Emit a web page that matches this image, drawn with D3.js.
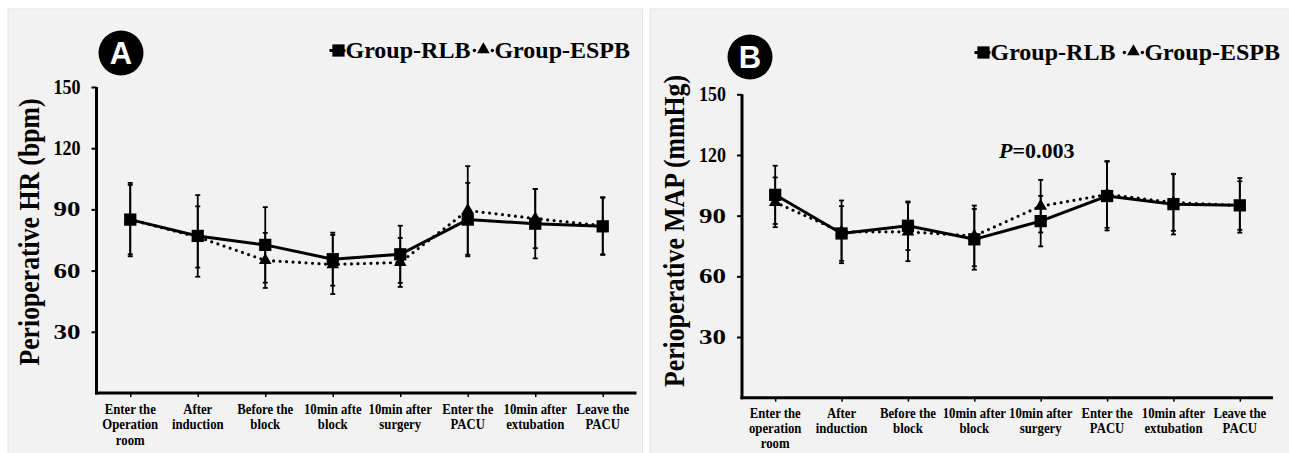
<!DOCTYPE html>
<html>
<head>
<meta charset="utf-8">
<script src="https://cdn.jsdelivr.net/npm/d3@7"></script>
<style>
  body { margin: 0; background: #ffffff; }
  svg { display: block; }
  text { font-family: "Liberation Serif", "Times New Roman", serif; font-weight: bold; fill: #000; }
</style>
</head>
<body>
<svg id="canvas" width="1289" height="453"></svg>
<script>

// time points (x axis), one array per panel since wording differs slightly
const catsHR = [
    ["Enter the", "Operation", "room"], ["After", "induction"], ["Before the", "block"],
    ["10min afte", "block"], ["10min after", "surgery"], ["Enter the", "PACU"],
    ["10min after", "extubation"], ["Leave the", "PACU"]
];
const catsMAP = [
    ["Enter the", "operation", "room"], ["After", "induction"], ["Before the", "block"],
    ["10min after", "block"], ["10min after", "surgery"], ["Enter the", "PACU"],
    ["10min after", "extubation"], ["Leave the", "PACU"]
];

// heart rate (bpm), mean and SD
const hrRLB = [85, 77, 72.6, 65.6, 68, 85, 83, 81.7];
const hrRLBsd = [18, 20, 18.5, 13, 14, 18, 17, 14];
const hrESPB = [85, 76.5, 65, 63, 64, 89.5, 85.5, 82];
const hrESPBsd = [17, 15, 13.5, 14.5, 12, 21.7, 14.5, 14];

// mean arterial pressure (mmHg), mean and SD
const mapRLB = [100.3, 81.2, 85, 78.3, 87.3, 99.7, 95.7, 95.1];
const mapRLBsd = [14.4, 13.5, 12, 15, 12.5, 17, 15, 13.5];
const mapESPB = [96.6, 82, 82, 80, 94.7, 100.5, 96.5, 95];
const mapESPBsd = [12.3, 15.5, 14.5, 15, 13, 16.5, 14, 12];

const yTicks = [30, 60, 90, 120, 150];
const seriesNames = ["Group-RLB", "Group-ESPB"];

const svg = d3.select("#canvas");

function drawPanel(p) {

    const g = svg.append("g");

    g.append("rect")
        .attr("x", p.box[0]).attr("y", p.box[1])
        .attr("width", p.box[2]).attr("height", p.box[3])
        .attr("fill", "#f2f2f2")
        .attr("stroke", "#e2e2e2");

    const keys = p.cats.map(c => c.join("|"));

    const x = d3.scalePoint()
        .domain(keys)
        .range([p.left, p.right])
        .padding(0.5);

    const y = d3.scaleLinear()
        .domain([0, 150])
        .range([p.bottom, p.top]);

    // y axis
    const yAxis = g.append("g")
        .attr("transform", "translate(" + p.left + ",0)")
        .call(d3.axisLeft(y).tickValues(yTicks).tickSize(5).tickPadding(11));
    yAxis.select(".domain").attr("stroke-width", 3)
        .attr("d", "M0," + y(150) + "V" + (p.bottom + 1.5));
    yAxis.selectAll(".tick line").attr("stroke-width", 2);
    yAxis.selectAll(".tick text")
        .style("font-family", "Liberation Serif")
        .style("font-weight", "bold")
        .style("font-size", "20px")
        .attr("textLength", 27)
        .attr("lengthAdjust", "spacingAndGlyphs");

    // x axis
    const xAxis = g.append("g")
        .attr("transform", "translate(0," + p.bottom + ")")
        .call(d3.axisBottom(x).tickSize(4).tickFormat(""));
    xAxis.select(".domain").attr("stroke-width", 3)
        .attr("d", "M" + (p.left - 1.5) + ",0H" + p.right);
    xAxis.selectAll(".tick line").attr("stroke-width", 1.5);

    const lbl = g.append("g").selectAll("text")
        .data(p.cats)
        .join("text")
        .attr("text-anchor", "middle")
        .attr("transform", d => "translate(" + x(d.join("|")) + "," + (p.bottom + p.labelDy) + ") scale(0.88,1)")
        .style("font-size", "14.5px");
    lbl.selectAll("tspan")
        .data(d => d)
        .join("tspan")
        .attr("x", 0)
        .attr("y", (d, i) => i * 15.3)
        .text(d => d);

    // y label
    g.append("text")
        .attr("transform", "translate(" + p.ylabX + "," + p.ylabY + ") rotate(-90)")
        .attr("text-anchor", "middle")
        .attr("textLength", p.ylabLen)
        .attr("lengthAdjust", "spacingAndGlyphs")
        .style("font-size", "29px")
        .text(p.ylabel);

    // series: ESPB first so RLB sits on top
    const series = [
        { name: seriesNames[1], mean: p.espb, sd: p.espbSd, dotted: true },
        { name: seriesNames[0], mean: p.rlb, sd: p.rlbSd, dotted: false }
    ];

    series.forEach(s => {
        const pts = s.mean.map((v, i) => ({ k: keys[i], v: v, sd: s.sd[i] }));

        const eb = g.append("g").selectAll("g")
            .data(pts)
            .join("g")
            .attr("stroke", "#000");
        eb.append("line")
            .attr("x1", d => x(d.k)).attr("x2", d => x(d.k))
            .attr("y1", d => y(d.v + d.sd)).attr("y2", d => y(d.v - d.sd))
            .attr("stroke-width", 1.8);
        [1, -1].forEach(sg => {
            eb.append("line")
                .attr("x1", d => x(d.k) - 2.5).attr("x2", d => x(d.k) + 2.5)
                .attr("y1", d => y(d.v + sg * d.sd)).attr("y2", d => y(d.v + sg * d.sd))
                .attr("stroke-width", 1.8);
        });

        const line = d3.line().x(d => x(d.k)).y(d => y(d.v));
        const path = g.append("path")
            .datum(pts)
            .attr("d", line)
            .attr("fill", "none")
            .attr("stroke", "#000");
        if (s.dotted) {
            path.attr("stroke-width", 3.2)
                .attr("stroke-linecap", "round")
                .attr("stroke-dasharray", "0,6.5");
        } else {
            path.attr("stroke-width", 3);
        }

        g.append("g").selectAll("path")
            .data(pts)
            .join("path")
            .attr("transform", d => "translate(" + x(d.k) + "," + y(d.v) + ")")
            .attr("d", s.dotted
                ? d3.symbol(d3.symbolTriangle, 70)
                : d3.symbol(d3.symbolSquare, 150))
            .attr("fill", "#000");
    });

    // badge
    g.append("circle")
        .attr("cx", p.badge[0]).attr("cy", p.badge[1]).attr("r", 22.5)
        .attr("fill", "#000");
    g.append("text")
        .attr("x", p.badge[0]).attr("y", p.badge[1] + 11)
        .attr("text-anchor", "middle")
        .style("font-family", "Liberation Sans, Arial, sans-serif")
        .style("font-size", "31px")
        .style("fill", "#fff")
        .text(p.letter);

    drawLegend(g, p);

    if (p.ptext) {
        const t = g.append("text")
            .attr("x", p.ptext[0]).attr("y", p.ptext[1])
            .style("font-size", "22px");
        t.append("tspan").style("font-style", "italic").text("P");
        t.append("tspan").text("=0.003");
    }
}

function drawLegend(g, p) {

    const lg = g.append("g");
    var cx = 0;
    const base = p.legend[1];
    const mid = base - 7.5;

    // RLB: short solid line with square
    lg.append("line").attr("x1", cx).attr("x2", cx + 16)
        .attr("y1", mid).attr("y2", mid)
        .attr("stroke", "#000").attr("stroke-width", 3);
    lg.append("path").attr("transform", "translate(" + (cx + 9) + "," + mid + ")")
        .attr("d", d3.symbol(d3.symbolSquare, 150)).attr("fill", "#000");
    cx += 16;
    const t1 = lg.append("text").attr("x", cx).attr("y", base)
        .style("font-size", "24px").text(seriesNames[0]);
    cx += t1.node().getComputedTextLength() + p.legendGap;

    // ESPB: dot, triangle, dot
    [0, 18].forEach(dx => {
        lg.append("circle").attr("cx", cx + dx + 2).attr("cy", mid).attr("r", 1.7).attr("fill", "#000");
    });
    lg.append("path").attr("transform", "translate(" + (cx + 11) + "," + (mid - 1) + ")")
        .attr("d", d3.symbol(d3.symbolTriangle, 70)).attr("fill", "#000");
    cx += 22;
    const t2 = lg.append("text").attr("x", cx).attr("y", base)
        .style("font-size", "24px").text(seriesNames[1]);
    cx += t2.node().getComputedTextLength();

    lg.attr("transform", "translate(" + (p.legend[0] - cx) + ",0)");
}

drawPanel({
    box: [8, 9, 634.5, 450],
    cats: catsHR,
    left: 96.5, right: 636.5, top: 87, bottom: 393,
    labelDy: 21,
    rlb: hrRLB, rlbSd: hrRLBsd, espb: hrESPB, espbSd: hrESPBsd,
    ylabel: "Perioperative HR (bpm)", ylabX: 39, ylabY: 232, ylabLen: 267,
    badge: [121, 53], letter: "A",
    legend: [630, 58], legendGap: 2
});

drawPanel({
    box: [650, 9, 645, 450],
    cats: catsMAP,
    left: 742, right: 1273, top: 94.3, bottom: 397.7,
    labelDy: 20,
    rlb: mapRLB, rlbSd: mapRLBsd, espb: mapESPB, espbSd: mapESPBsd,
    ylabel: "Perioperative MAP (mmHg)", ylabX: 684, ylabY: 231, ylabLen: 312,
    badge: [750, 57], letter: "B",
    legend: [1280, 60], legendGap: 7,
    ptext: [999, 158]
});

</script>
</body>
</html>
